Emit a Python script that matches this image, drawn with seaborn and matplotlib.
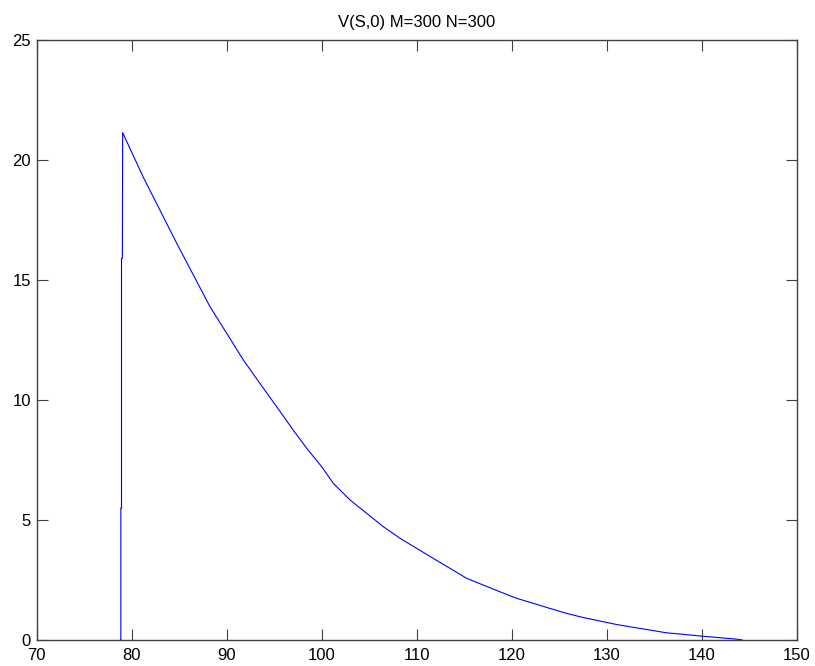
import matplotlib
matplotlib.use("Agg")
import matplotlib.pyplot as plt
import seaborn as sns
import pandas as pd

# Data
S_values = [78.80, 78.86, 78.86, 78.93, 78.93, 79.02, 79.05,
            81.2, 84.74, 86.49, 88.24, 90.0, 91.75, 93.5, 95.26, 97.0,
            98.42, 100.0, 101.22, 103.0, 104.74, 106.5, 108.24, 110.0,
            111.75, 113.5, 115.26, 118.77, 120.5, 122.27, 124.0, 125.79,
            127.5, 129.3, 131.0, 132.8, 134.5, 136.3, 138.0, 139.8,
            143.85, 144.3]
V_values = [0.0, 0.0, 5.5, 5.5, 15.9, 15.9, 21.14,
            19.3, 16.53, 15.21, 13.89, 12.78, 11.67, 10.69, 9.72, 8.75,
            7.99, 7.22, 6.53, 5.83, 5.28, 4.72, 4.24, 3.82,
            3.40, 2.99, 2.57, 2.01, 1.74, 1.53, 1.32, 1.11,
            0.94, 0.79, 0.65, 0.53, 0.42, 0.30, 0.24, 0.17,
            0.03, 0.0]
x_ticks = [70, 80, 90, 100, 110, 120, 130, 140, 150]
y_ticks = [0, 5, 10, 15, 20, 25]
title = "V(S,0) M=300 N=300"

df = pd.DataFrame({"S": S_values, "V": V_values})

sns.set_style("white")
plt.rcParams["font.family"] = ["Liberation Sans", "DejaVu Sans"]

fig = plt.figure(figsize=(8.15, 6.66), dpi=100)
ax = fig.add_axes([0.045, 0.039, 0.9325, 0.901])

sns.lineplot(data=df, x="S", y="V", sort=False, estimator=None,
             color="#0000ff", linewidth=0.8, ax=ax)

ax.set_xlim(70, 150)
ax.set_ylim(0, 25)
ax.set_xticks(x_ticks)
ax.set_yticks(y_ticks)
ax.set_xlabel("")
ax.set_ylabel("")
ax.set_title(title, fontsize=12, pad=9, color="black")

for sp in ax.spines.values():
    sp.set_color("#404040")
    sp.set_linewidth(1.0)
    sp.set_visible(True)

ax.tick_params(axis="both", which="both", direction="in", length=8,
               width=0.8, color="#404040", labelsize=12, labelcolor="black",
               top=True, right=True, bottom=True, left=True, pad=4)
ax.tick_params(axis="x", pad=6)

fig.savefig("out.png", dpi=100, facecolor="white")
